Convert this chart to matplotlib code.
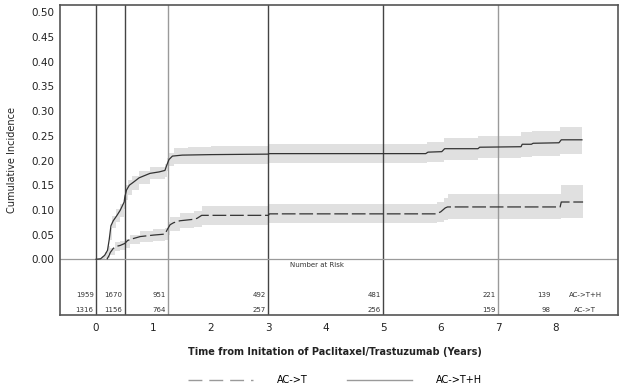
import matplotlib
matplotlib.use('Agg')
import matplotlib.pyplot as plt
from matplotlib.lines import Line2D

# AC->T+H (solid) - curve vertices
th_x = [0, 0.08, 0.15, 0.20, 0.23, 0.26, 0.30, 0.36, 0.42, 0.49, 0.50, 0.53, 0.58, 0.65, 0.75, 0.94,
        1.10, 1.20, 1.23, 1.27, 1.33, 1.5, 2.0, 3.0, 3.02, 5.74, 5.78, 6.02, 6.07, 6.65, 6.68, 7.40,
        7.42, 7.58, 7.61, 8.06, 8.10, 8.46]
th_y = [0, 0.001, 0.008, 0.018, 0.040, 0.068, 0.078, 0.088, 0.099, 0.116, 0.125, 0.140, 0.150, 0.156,
        0.165, 0.174, 0.177, 0.180, 0.190, 0.202, 0.209, 0.211, 0.212, 0.213, 0.214, 0.214, 0.217,
        0.218, 0.224, 0.224, 0.227, 0.228, 0.233, 0.233, 0.235, 0.236, 0.242, 0.242]
# AC->T+H confidence band (steps)
th_t = [0, 0.10, 0.15, 0.20, 0.24, 0.28, 0.35, 0.42, 0.49, 0.52, 0.56, 0.62, 0.75, 0.94,
        1.20, 1.24, 1.27, 1.35, 1.6, 2.0, 3.0, 5.76, 6.05, 6.65, 7.40, 7.59, 8.08, 8.46]
th_lo = [0, 0, 0.002, 0.010, 0.040, 0.063, 0.075, 0.086, 0.102, 0.120, 0.130, 0.140, 0.152, 0.162,
         0.167, 0.178, 0.188, 0.194, 0.194, 0.194, 0.195, 0.197, 0.202, 0.205, 0.208, 0.210, 0.214, 0.214]
th_hi = [0, 0.006, 0.014, 0.026, 0.064, 0.087, 0.101, 0.112, 0.130, 0.150, 0.160, 0.168, 0.178, 0.186,
         0.193, 0.206, 0.216, 0.226, 0.228, 0.230, 0.233, 0.237, 0.246, 0.249, 0.258, 0.260, 0.268, 0.268]

# AC->T (dashed) - curve vertices
t_x = [0.19, 0.22, 0.25, 0.30, 0.35, 0.42, 0.50, 0.55, 0.62, 0.77, 1.0, 1.20, 1.24, 1.29, 1.35, 1.46,
       1.70, 1.76, 1.84, 3.0, 3.02, 5.92, 6.0, 6.08, 6.12, 8.08, 8.10, 8.48]
t_y = [0, 0.006, 0.014, 0.022, 0.026, 0.028, 0.032, 0.038, 0.041, 0.046, 0.049, 0.051, 0.060, 0.070,
       0.074, 0.078, 0.081, 0.083, 0.089, 0.089, 0.092, 0.092, 0.096, 0.104, 0.106, 0.106, 0.116, 0.116]
# AC->T confidence band (steps)
t_t = [0.19, 0.22, 0.25, 0.33, 0.42, 0.50, 0.60, 0.77, 1.00, 1.20, 1.25, 1.29, 1.46, 1.71, 1.84,
       3.0, 5.94, 6.05, 6.12, 8.10, 8.48]
t_lo = [0, 0.003, 0.008, 0.016, 0.019, 0.022, 0.030, 0.036, 0.038, 0.040, 0.050, 0.058, 0.064, 0.066,
        0.070, 0.073, 0.076, 0.080, 0.082, 0.084, 0.084]
t_hi = [0, 0.013, 0.022, 0.034, 0.037, 0.042, 0.050, 0.058, 0.062, 0.064, 0.075, 0.086, 0.094, 0.098,
        0.108, 0.112, 0.116, 0.124, 0.133, 0.150, 0.150]

# number at risk
risk_times = [0, 0.5, 1.25, 3, 5, 7, 7.95]
risk_th = [1959, 1670, 951, 492, 481, 221, 139]
risk_t = [1316, 1156, 764, 257, 256, 159, 98]
dark_lines = [0, 0.5, 3, 5]
light_lines = [1.25, 7]

fig = plt.figure(figsize=(6.25, 3.88), dpi=100)
ax = fig.add_axes([0.096, 0.188, 0.893, 0.799])

ax.fill_between(th_t, th_lo, th_hi, step='post', color='#e0e0e0', lw=0, zorder=1)
ax.fill_between(t_t, t_lo, t_hi, step='post', color='#e0e0e0', lw=0, zorder=1)
ax.plot(th_x, th_y, color='#333333', lw=0.9, zorder=3)
ax.plot(t_x, t_y, color='#333333', lw=0.9, dashes=(11, 3), zorder=3)

for x in dark_lines:
    ax.axvline(x, color='#444444', lw=1.0, zorder=2)
for x in light_lines:
    ax.axvline(x, color='#9a9a9a', lw=1.0, zorder=2)
ax.axhline(0, color='#9a9a9a', lw=0.9, zorder=2)

for x, a, b in zip(risk_times, risk_th, risk_t):
    ax.text(x - 0.04, -0.073, str(a), ha='right', va='center', fontsize=5, color='#333333')
    ax.text(x - 0.04, -0.102, str(b), ha='right', va='center', fontsize=5, color='#333333')
ax.text(8.52, -0.073, 'AC->T+H', ha='center', va='center', fontsize=5, color='#333333')
ax.text(8.52, -0.102, 'AC->T', ha='center', va='center', fontsize=5, color='#333333')
ax.text(3.85, -0.012, 'Number at Risk', ha='center', va='center', fontsize=5, color='#333333')

ax.set_xlim(-0.627, 9.09)
ax.set_ylim(-0.113, 0.515)
ax.set_xticks(range(0, 9))
ax.set_yticks([i * 0.05 for i in range(11)])
ax.set_yticklabels(['%.2f' % (i * 0.05) for i in range(11)])
ax.tick_params(length=0, labelsize=7.5, colors='#222222')
ax.tick_params(axis='y', pad=4)
ax.tick_params(axis='x', pad=6)
for s in ax.spines.values():
    s.set_color('#555555')
    s.set_linewidth(1.2)

fig.text(0.019, 0.588, 'Cumulative Incidence', rotation=90, ha='center', va='center',
         fontsize=7, color='#222222')
fig.text(0.536, 1 - 352 / 388, 'Time from Initation of Paclitaxel/Trastuzumab (Years)',
         ha='center', va='center', fontsize=7, fontweight='bold', color='#222222')

handles = [Line2D([], [], color='#9a9a9a', lw=1, dashes=(10, 5)),
           Line2D([], [], color='#9a9a9a', lw=1)]
fig.legend(handles, ['AC->T', 'AC->T+H'], loc='center', bbox_to_anchor=(0.536, 1 - 380 / 388),
           ncol=2, frameon=False, fontsize=7, handlelength=6.7, handletextpad=2.4,
           columnspacing=4.1)

fig.savefig('out.png', dpi=100)
